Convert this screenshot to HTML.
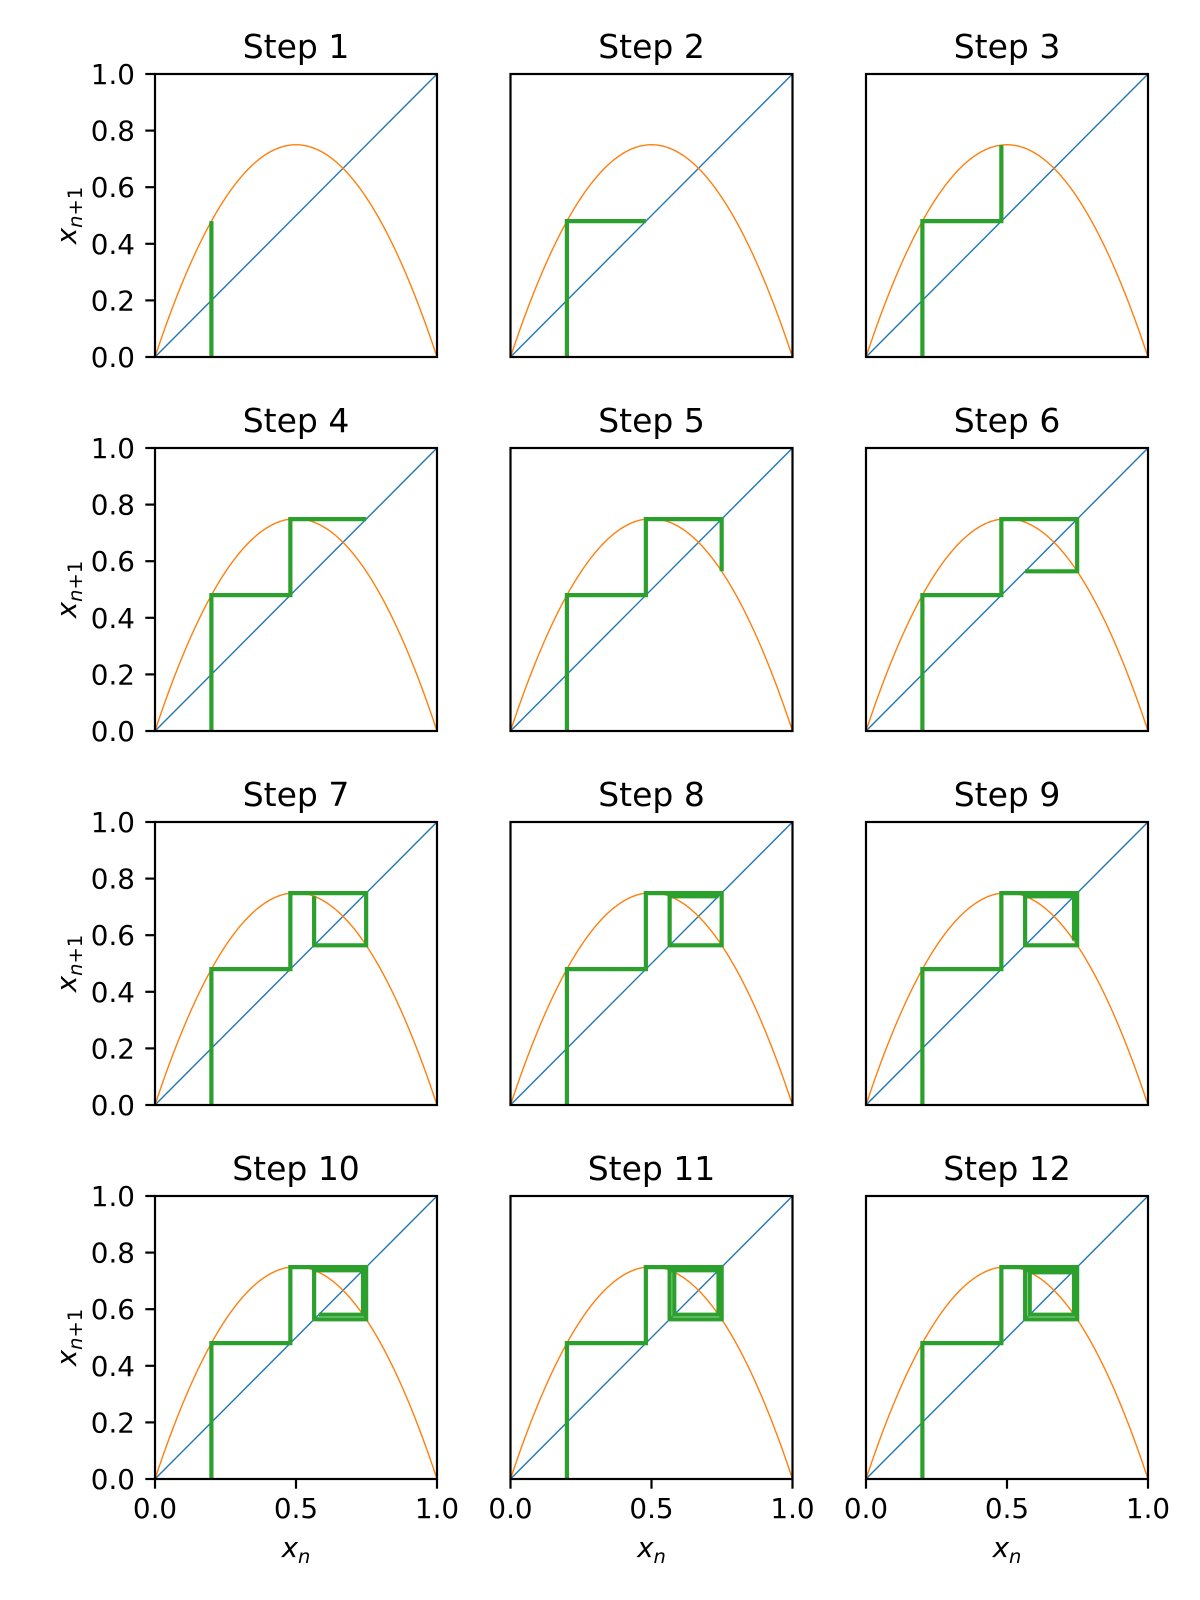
<!DOCTYPE html>
<html><head><meta charset="utf-8"><style>body{margin:0;background:#fff}svg{display:block}text{font-family:"DejaVu Sans","Liberation Sans",sans-serif}</style></head>
<body>
<svg id="fig" width="1200" height="1600" viewBox="0 0 1200 1600"></svg>
<script>
const rParam = 3.0;
const iterates = [0.2, 0.48, 0.7488, 0.56429, 0.737595, 0.58065, 0.73050, 0.59061, 0.72537];
const stepLabels = ["Step 1","Step 2","Step 3","Step 4","Step 5","Step 6","Step 7","Step 8","Step 9","Step 10","Step 11","Step 12"];
const tickValues = [0, 0.2, 0.4, 0.6, 0.8, 1.0];
const xTickValues = [0, 0.5, 1.0];
const tickLabels = ["0.0","0.2","0.4","0.6","0.8","1.0"];
const xTickLabels = ["0.0","0.5","1.0"];

const NS="http://www.w3.org/2000/svg";
const svg=document.getElementById('fig');
const colX=[155,510.5,866], rowY=[74,448,822,1196], W=282, H=283;
function mk(t,a,p){const e=document.createElementNS(NS,t);for(const k in a)e.setAttribute(k,a[k]);(p||svg).appendChild(e);return e;}
for(let i=0;i<12;i++){
  const c=i%3, r=Math.floor(i/3), x0=colX[c], y0=rowY[r];
  const sx=v=>x0+v*W, sy=v=>y0+H-v*H;
  const g=mk('g',{});
  
  
  const t=mk('text',{x:x0+W/2,y:y0-16,'text-anchor':'middle','font-size':33},g);t.textContent=stepLabels[i];
  
  const cp=mk('clipPath',{id:'cp'+i},g);mk('rect',{x:x0,y:y0,width:W,height:H},cp);
  const d=mk('line',{x1:sx(0),y1:sy(0),x2:sx(1),y2:sy(1),stroke:'#1f77b4','stroke-width':1.4,'clip-path':'url(#cp'+i+')'},g);
  
  let pts=[];for(let k=0;k<=200;k++){const v=k/200;pts.push(sx(v)+','+sy(rParam*v*(1-v)));}
  const cu=mk('polyline',{points:pts.join(' '),fill:'none',stroke:'#ff7f0e','stroke-width':1.4,'clip-path':'url(#cp'+i+')'},g);
  
  const cw=[[iterates[0],0]];
  for(let s=1;s<=i+1;s++){const j=Math.ceil(s/2);if(s%2===1)cw.push([iterates[j-1],iterates[j]]);else cw.push([iterates[j],iterates[j]]);}
  const cwp=mk('polyline',{points:cw.map(p=>sx(p[0])+','+sy(p[1])).join(' '),fill:'none',stroke:'#2ca02c','stroke-width':4.2,'stroke-linecap':'butt','stroke-linejoin':'miter'},g);
  
  const fr=mk('rect',{x:x0,y:y0,width:W,height:H,fill:'none',stroke:'#000','stroke-width':2.2},g);
  
  if(c===0){
    tickValues.forEach((v,k)=>{mk('line',{x1:x0-9.7,x2:x0,y1:sy(v),y2:sy(v),stroke:'#000','stroke-width':2.2},g);
      const tl=mk('text',{x:x0-20,y:sy(v)+10,'text-anchor':'end','font-size':27.8},g);tl.textContent=tickLabels[k];
      });
    const yl=mk('text',{x:0,y:0,'font-size':27.8,transform:`translate(76,${y0+H/2}) rotate(-90)`,'text-anchor':'middle'},g);
    yl.innerHTML='<tspan font-style="italic">x</tspan><tspan font-size="19.5" dy="6" font-style="italic">n</tspan><tspan font-size="19.5">+1</tspan>';
    
  }
  if(r===3){
    xTickValues.forEach((v,k)=>{mk('line',{x1:sx(v),x2:sx(v),y1:y0+H,y2:y0+H+9.7,stroke:'#000','stroke-width':2.2},g);
      const tl=mk('text',{x:sx(v),y:y0+H+39,'text-anchor':'middle','font-size':27.8},g);tl.textContent=xTickLabels[k];
      });
    const xl=mk('text',{x:x0+W/2,y:1557,'font-size':27.8,'font-style':'italic','text-anchor':'middle'},g);
    xl.innerHTML='x<tspan font-size="19.5" dy="6">n</tspan>';
    
  }
}
</script>
</body></html>
